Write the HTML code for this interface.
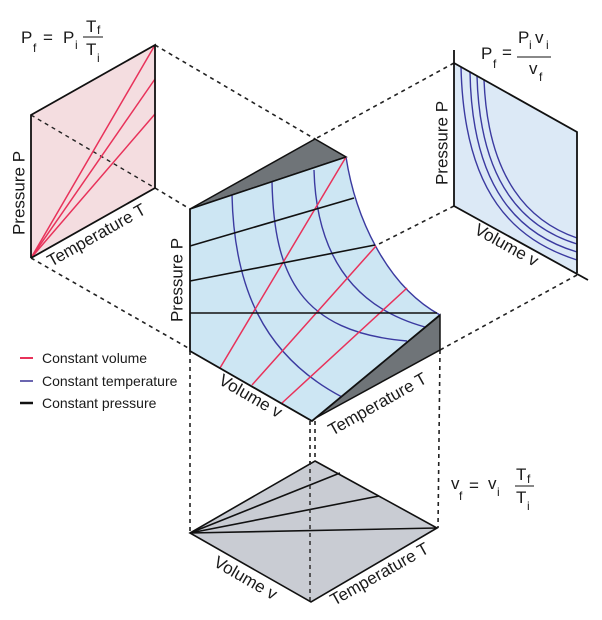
<!DOCTYPE html>
<html><head><meta charset="utf-8"><style>
html,body{margin:0;padding:0;background:#fff;}
svg{display:block;}
text{font-family:"Liberation Sans",sans-serif;fill:#1a1a1a;}
.lab{font-size:17px;}
.f{font-size:17px;}
.s{font-size:12px;}
</style></head><body>
<svg width="602" height="620" viewBox="0 0 602 620" xmlns="http://www.w3.org/2000/svg">
<g fill="none" stroke="#222" stroke-width="1.6" stroke-dasharray="4,4">
<line x1="155" y1="45" x2="315" y2="139"/>
<line x1="155" y1="188" x2="190" y2="209"/>
<line x1="31" y1="258" x2="190" y2="349"/>
<line x1="454" y1="63" x2="315" y2="139"/>
<line x1="454" y1="206" x2="377" y2="245"/>
<line x1="577" y1="275" x2="440" y2="350"/>
<line x1="190" y1="351" x2="190" y2="533"/>
<line x1="310" y1="421" x2="310" y2="602"/>
<line x1="315" y1="421" x2="315" y2="461"/>
<line x1="440" y1="350" x2="438" y2="528"/>
</g>
<polygon points="31,115 155,45 155,188 31,258" fill="#f4dde0" stroke="none"/>
<line x1="31" y1="115" x2="155" y2="188" stroke="#222" stroke-width="1.4" stroke-dasharray="4,4"/>
<g stroke="#e8325a" stroke-width="1.5">
<line x1="31" y1="258" x2="155" y2="45"/><line x1="31" y1="258" x2="155" y2="79"/><line x1="31" y1="258" x2="155" y2="114"/>
</g>
<polyline points="31,258 31,115 155,45 155,188 31,258" fill="none" stroke="#111" stroke-width="1.8"/>
<polygon points="454,63 577,132 577,273 454,206" fill="#dce9f6"/>
<g fill="none" stroke="#3b3aa0" stroke-width="1.4">
<path d="M461,67 C464,195 515,240 577,260"/>
<path d="M470,72 C472,190 520,235 577,252"/>
<path d="M477,76 C480,185 525,228 577,244"/>
<path d="M484,80 C488,180 530,222 577,238"/>
</g>
<polyline points="454,50 454,206 588,280" fill="none" stroke="#111" stroke-width="1.8"/>
<polyline points="454,63 577,132 577,273" fill="none" stroke="#111" stroke-width="1.8"/>
<polygon points="190,209 315,139 346,157" fill="#6f7478" stroke="#111" stroke-width="1.5"/>
<polygon points="312,420 440,350 440,315" fill="#6f7478" stroke="#111" stroke-width="1.5"/>
<path d="M190,209 L346,157 C355,215 385,285 440,315 L312,421 L190,351 Z" fill="#cde6f3"/>
<g fill="none" stroke="#3b3aa0" stroke-width="1.4">
<path d="M232,195 C234,285 262,355 342,397"/>
<path d="M272,182 C274,275 300,332 407,341"/>
<path d="M314,170 C316,245 345,305 425,327"/>
<path d="M346,157 C355,215 385,285 440,315"/>
</g>
<g stroke="#e8325a" stroke-width="1.5">
<line x1="346" y1="157" x2="220" y2="368"/>
<line x1="376" y1="246" x2="252" y2="385"/>
<line x1="407" y1="288" x2="282" y2="403"/>
</g>
<g stroke="#111" stroke-width="1.6">
<line x1="190" y1="246" x2="354" y2="198"/>
<line x1="190" y1="281" x2="375" y2="245"/>
<line x1="190" y1="313" x2="437" y2="313"/>
</g>
<polyline points="190,209 346,157" fill="none" stroke="#111" stroke-width="1.6"/>
<polyline points="190,209 190,351 312,421 440,315" fill="none" stroke="#111" stroke-width="1.8"/>
<polygon points="315,461 437,528 311,602 190,533" fill="#c9ccd3" stroke="#111" stroke-width="1.6"/>
<g stroke="#111" stroke-width="1.6">
<line x1="190" y1="533" x2="340" y2="473"/>
<line x1="190" y1="533" x2="379" y2="496"/>
<line x1="190" y1="533" x2="437" y2="528"/>
</g>
<line x1="310" y1="461" x2="310" y2="602" stroke="#222" stroke-width="1.4" stroke-dasharray="4,4"/>
<text class="lab" text-anchor="middle" dominant-baseline="middle" transform="translate(20,193) rotate(-90)">Pressure  P</text>
<text class="lab" text-anchor="middle" dominant-baseline="middle" transform="translate(97,236) rotate(-29.4)">Temperature  T</text>
<text class="lab" text-anchor="middle" dominant-baseline="middle" transform="translate(178,280) rotate(-90)">Pressure  P</text>
<text class="lab" text-anchor="middle" dominant-baseline="middle" transform="translate(250,397) rotate(30)">Volume  v</text>
<text class="lab" text-anchor="middle" dominant-baseline="middle" transform="translate(378,405) rotate(-29.4)">Temperature  T</text>
<text class="lab" text-anchor="middle" dominant-baseline="middle" transform="translate(443,143) rotate(-90)">Pressure  P</text>
<text class="lab" text-anchor="middle" dominant-baseline="middle" transform="translate(506,246) rotate(29)">Volume  v</text>
<text class="lab" text-anchor="middle" dominant-baseline="middle" transform="translate(245,579) rotate(30)">Volume  v</text>
<text class="lab" text-anchor="middle" dominant-baseline="middle" transform="translate(380,575) rotate(-29.4)">Temperature  T</text>
<line x1="20" y1="358" x2="33" y2="358" stroke="#e8325a" stroke-width="2"/>
<line x1="20" y1="381" x2="33" y2="381" stroke="#6b66b0" stroke-width="2"/>
<line x1="20" y1="403" x2="33" y2="403" stroke="#111" stroke-width="2.5"/>
<text x="42" y="363" style="font-size:14px">Constant volume</text>
<text x="42" y="386" style="font-size:14px">Constant temperature</text>
<text x="42" y="408" style="font-size:14px">Constant pressure</text>
<text class="f" x="21" y="43">P</text><text class="s" x="33" y="52">f</text>
<text class="f" x="43" y="43">=</text>
<text class="f" x="63" y="43">P</text><text class="s" x="75" y="49">i</text>
<text class="f" x="86" y="32">T</text><text class="s" x="97" y="34">f</text>
<line x1="83" y1="37" x2="103" y2="37" stroke="#111" stroke-width="1"/>
<text class="f" x="86" y="55">T</text><text class="s" x="97" y="62">i</text>
<text class="f" x="481" y="59">P</text><text class="s" x="493" y="68">f</text>
<text class="f" x="502" y="58">=</text>
<text class="f" x="518" y="43">P</text><text class="s" x="529" y="49">i</text>
<text class="f" x="535" y="43">v</text><text class="s" x="546" y="49">i</text>
<line x1="517" y1="57" x2="551" y2="57" stroke="#111" stroke-width="1"/>
<text class="f" x="529" y="74">v</text><text class="s" x="539" y="81">f</text>
<text class="f" x="451" y="489">v</text><text class="s" x="459" y="500">f</text>
<text class="f" x="469" y="491">=</text>
<text class="f" x="488" y="489">v</text><text class="s" x="497" y="496">i</text>
<text class="f" x="516" y="480">T</text><text class="s" x="527" y="483">f</text>
<line x1="515" y1="486" x2="534" y2="486" stroke="#111" stroke-width="1"/>
<text class="f" x="516" y="503">T</text><text class="s" x="527" y="510">i</text>
</svg>
</body></html>
